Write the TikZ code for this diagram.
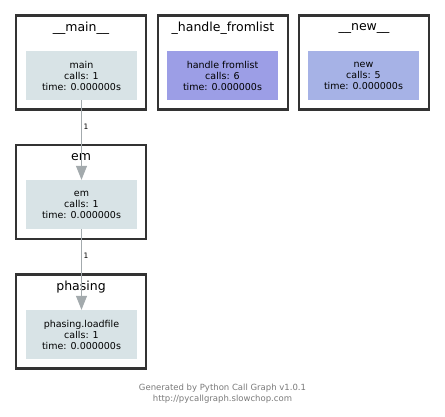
\documentclass[tikz,border=0pt]{standalone}
\usepackage{fontspec}
\setmainfont{DejaVu Sans}
\usetikzlibrary{arrows.meta}
\definecolor{clusterline}{HTML}{333333}
\definecolor{plainfill}{HTML}{D8E3E6}
\definecolor{hotfill}{HTML}{9C9EE6}
\definecolor{warmfill}{HTML}{A6B2E6}
\definecolor{edgegray}{HTML}{A3AAAD}
\definecolor{footgray}{HTML}{7A7A7A}
\tikzset{
  cluster/.style={draw=clusterline, line width=2.6pt, fill=white, minimum width=130pt, minimum height=94pt, inner sep=0pt},
  ctitle/.style={font=\fontsize{12.5}{14}\selectfont, inner sep=0pt},
  func/.style={minimum width=111pt, minimum height=49pt, inner sep=0pt, align=center,
    font=\fontsize{9.5}{11}\selectfont},
  call/.style={draw=edgegray, line width=1pt, -{Triangle[width=11pt,length=14pt]}, color=edgegray},
  clabel/.style={font=\fontsize{7.5}{8}\selectfont, inner sep=0pt, text=black},
  foot/.style={font=\fontsize{8.5}{11}\selectfont, text=footgray, align=center}
}
\begin{document}
\begin{tikzpicture}[x=1pt,y=-1pt]
\useasboundingbox (0,0) rectangle (445,417);
\fill[white] (0,0) rectangle (445,417);
% module clusters
\node[cluster] (cmain) at (81,62.5) {};
\node[cluster] (chandle) at (223,62.5) {};
\node[cluster] (cnew) at (364,62.5) {};
\node[cluster] (cem) at (81,192) {};
\node[cluster] (cphasing) at (81,321.5) {};
\node[ctitle] (tmain) at (81,28.5) {\_\_main\_\_};
\node[ctitle] (thandle) at (223,28.5) {\_handle\_fromlist};
\node[ctitle] (tnew) at (364,28.5) {\_\_new\_\_};
\node[ctitle] (tem) at (81,157.5) {em};
\node[ctitle] (tphasing) at (81,287) {phasing};
% functions
\node[func, fill=plainfill] (fmain) at (81.5,75.5) {main\\calls: 1\\time: 0.000000s};
\node[func, fill=hotfill] (fhandle) at (222.5,75.5) {handle fromlist\\calls: 6\\time: 0.000000s};
\node[func, fill=warmfill] (fnew) at (363.5,75.5) {new\\calls: 5\\time: 0.000000s};
\node[func, fill=plainfill] (fem) at (81.5,204.5) {em\\calls: 1\\time: 0.000000s};
\node[func, fill=plainfill] (fphasing) at (81.5,334.5) {phasing.loadfile\\calls: 1\\time: 0.000000s};
% calls
\draw[call] (fmain) -- (fem) node[clabel, pos=0.33, right=1.5pt] (l1) {1};
\draw[call] (fem) -- (fphasing) node[clabel, pos=0.33, right=1.5pt] (l2) {1};
% footer
\node[foot] (footer) at (222.5,394) {Generated by Python Call Graph v1.0.1\\http://pycallgraph.slowchop.com};
\end{tikzpicture}
\end{document}
